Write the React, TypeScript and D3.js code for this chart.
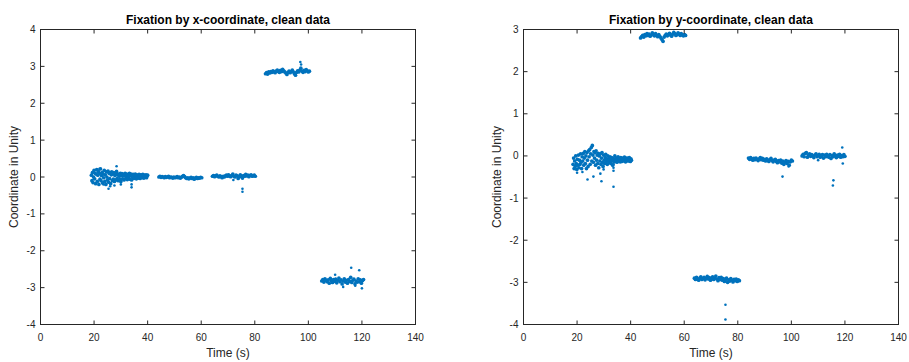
import React from "react";
import * as d3 from "d3";

// Time ticks and axis ranges
const timeTicks = [0, 20, 40, 60, 80, 100, 120, 140];
const leftYTicks = [-4, -3, -2, -1, 0, 1, 2, 3, 4];
const rightYTicks = [-4, -3, -2, -1, 0, 1, 2, 3];

// Sampling steps (s) for the fixation segments
const DT = 0.4;
const DT_FINE = 0.2;

// ---- x-coordinate panel: fixation segments (start time, values) ----
const xSeg1Start = 19;
const xSeg1 = [
  0.05, -0.1, 0.12, -0.15, 0.0, 0.18, -0.05, 0.1, -0.18, 0.08,
  0.2, -0.12, 0.05, 0.15, -0.2, 0.1, -0.06, 0.22, -0.1, 0.04,
  0.12, -0.16, 0.08, -0.02, 0.18, -0.12, 0.06, -0.2, 0.14, 0.0,
  -0.08, 0.16, -0.14, 0.1, -0.04, 0.12, -0.18, 0.06, 0.14, -0.1,
  0.08, -0.06, 0.12, -0.12, 0.04, 0.1, -0.08, 0.15, -0.04, 0.06,
  -0.1, 0.08, 0.02, -0.06, 0.1, -0.12, 0.05, 0.09, -0.05, 0.03,
  0.07, -0.08, 0.04, 0.1, -0.04, 0.02, 0.08, -0.07, 0.05, -0.02,
  0.06, 0.1, -0.06, 0.03, 0.08, -0.08, 0.04, 0.0, 0.07, -0.04,
  0.05, -0.03, 0.08, 0.02, -0.05, 0.06, 0.0, 0.04, -0.03, 0.07,
  0.03, -0.04, 0.06, 0.01, 0.05, -0.02, 0.07, 0.02, -0.03, 0.05,
  0.04, 0.0, 0.06, -0.02, 0.03, 0.05,
];
const xSeg2Start = 44.2;
const xSeg2 = [0.0, 0.02, -0.01, 0.01, 0.0, -0.02, 0.01, -0.01, 0.0, 0.02, -0.02, 0.0, -0.01, -0.03, 0.0, -0.02, -0.01, 0.01, -0.02, 0.0, -0.03, -0.01, 0.02, 0.04, 0.01, -0.02, -0.04, -0.02, -0.05, -0.03, -0.01, -0.04, -0.02, -0.06, -0.03, -0.01, -0.04, -0.02, -0.03, -0.01, -0.02];
const xSeg3Start = 64.2;
const xSeg3 = [0.02, 0.04, 0.01, 0.03, 0.05, 0.02, 0.0, 0.03, 0.01, -0.02, 0.02, 0.0, 0.03, 0.05, 0.02, 0.06, 0.03, 0.01, 0.04, 0.08, 0.02, 0.0, 0.05, 0.03, -0.04, 0.02, 0.06, 0.01, -0.03, 0.04, 0.02, 0.07, 0.03, 0.05, 0.01, 0.04, 0.06, 0.02, 0.03, 0.05, 0.02];
const xSeg4Start = 84;
const xSeg4 = [2.8, 2.83, 2.79, 2.85, 2.82, 2.86, 2.84, 2.88, 2.85, 2.83, 2.87, 2.9, 2.86, 2.84, 2.89, 2.86, 2.92, 2.88, 2.85, 2.82, 2.78, 2.84, 2.87, 2.83, 2.86, 2.9, 2.85, 2.8, 2.76, 2.84, 2.88, 2.85, 2.9, 2.95, 2.87, 2.84, 2.89, 2.86, 2.91, 2.88, 2.85, 2.87];
const xSeg5Start = 105;
const xSeg5 = [-2.82, -2.78, -2.85, -2.76, -2.8, -2.84, -2.79, -2.88, -2.75, -2.81, -2.86, -2.78, -2.83, -2.77, -2.87, -2.8, -2.74, -2.84, -2.79, -2.9, -2.82, -2.76, -2.85, -2.8, -2.88, -2.78, -2.83, -2.72, -2.86, -2.8, -2.77, -2.9, -2.82, -2.85, -2.76, -2.84, -2.79, -2.88, -2.81, -2.78];
const xOutliers: [number, number][] = [
  [21, 0.2], [22, 0.22], [23.5, -0.2], [25.4, -0.32], [26, -0.25], [27.6, -0.23], [28.4, 0.29],
  [30, -0.2], [34, -0.28], [34, -0.2], [72, -0.08], [75.4, -0.32], [75.4, -0.4],
  [97, 3.12], [97.3, 3.05], [110, -2.65], [113, -2.98], [116, -2.46], [117.5, -2.95],
  [119, -2.53], [120, -3.02],
];

// ---- y-coordinate panel ----
const ySeg1Start = 18.5;
const ySeg1 = [
  -0.2, -0.05, -0.3, -0.12, -0.25, 0.0, -0.18, -0.32, -0.08, -0.22,
  0.02, -0.28, -0.1, -0.2, 0.05, -0.15, -0.3, -0.02, -0.12, 0.06,
  -0.22, -0.05, 0.1, -0.18, 0.0, -0.3, 0.08, -0.1, -0.25, 0.12,
  -0.02, 0.15, -0.2, 0.05, 0.2, -0.12, 0.25, 0.02, -0.15, 0.1,
  -0.05, 0.08, -0.22, 0.12, -0.1, 0.02, -0.18, 0.06, -0.28, 0.0,
  -0.12, 0.05, -0.2, -0.05, 0.08, -0.15, -0.25, 0.02, -0.1, -0.18,
  -0.04, 0.04, -0.14, -0.08, -0.2, 0.0, -0.12, -0.05, -0.16, -0.02,
  -0.1, -0.18, -0.04, -0.12, -0.22, -0.06, -0.1, -0.14, 0.0, -0.08,
  -0.12, -0.05, -0.15, -0.08, -0.02, -0.12, -0.06, -0.1, -0.14, -0.04,
  -0.09, -0.13, -0.05, -0.1, -0.07, -0.12, -0.03, -0.09, -0.14, -0.06,
  -0.1, -0.05, -0.12, -0.08, -0.11, -0.04, -0.09, -0.13, -0.07, -0.1,
];
const ySeg2Start = 43.7;
const ySeg2 = [2.8, 2.83, 2.86, 2.82, 2.88, 2.85, 2.9, 2.86, 2.89, 2.84, 2.87, 2.92, 2.88, 2.85, 2.9, 2.86, 2.83, 2.88, 2.84, 2.8, 2.76, 2.72, 2.82, 2.86, 2.89, 2.85, 2.88, 2.91, 2.87, 2.84, 2.89, 2.93, 2.9, 2.86, 2.88, 2.92, 2.89, 2.86, 2.9, 2.87, 2.85, 2.88, 2.86];
const ySeg3Start = 63.8;
const ySeg3 = [-2.9, -2.93, -2.88, -2.92, -2.95, -2.9, -2.87, -2.93, -2.91, -2.88, -2.94, -2.9, -2.86, -2.92, -2.89, -2.95, -2.91, -2.87, -2.93, -2.9, -2.85, -2.92, -2.96, -2.89, -2.93, -2.88, -2.95, -2.91, -2.98, -2.93, -2.9, -3.0, -2.94, -2.97, -2.91, -2.95, -2.99, -2.93, -2.96, -2.92, -2.98, -2.94, -2.96];
const ySeg4Start = 84;
const ySeg4 = [-0.05, -0.08, -0.04, -0.07, -0.1, -0.06, -0.09, -0.05, -0.08, -0.11, -0.07, -0.04, -0.09, -0.06, -0.1, -0.08, -0.12, -0.07, -0.1, -0.13, -0.09, -0.06, -0.11, -0.14, -0.1, -0.08, -0.13, -0.16, -0.11, -0.14, -0.1, -0.17, -0.12, -0.2, -0.15, -0.11, -0.18, -0.13, -0.22, -0.14, -0.1, -0.12];
const ySeg5Start = 104;
const ySeg5 = [0.0, 0.04, -0.02, 0.06, 0.08, -0.03, 0.02, 0.05, -0.01, 0.03, 0.0, -0.04, 0.02, 0.05, -0.02, 0.01, 0.04, -0.03, 0.0, 0.03, -0.05, 0.02, -0.02, 0.04, 0.0, -0.03, 0.03, -0.06, 0.01, -0.02, 0.05, 0.0, -0.04, 0.02, -0.01, 0.04, -0.03, 0.01, -0.02, 0.03, -0.01];
const yOutliers: [number, number][] = [
  [20, -0.4], [22, -0.38], [23.9, -0.56], [26.1, -0.49], [28.7, -0.42], [29.1, -0.6], [29.9, -0.32],
  [33.6, -0.73], [33.6, -0.2], [33.6, -0.35], [33.6, -0.28], [75.4, -3.53], [75.4, -3.88],
  [96.7, -0.49], [99, -0.25], [110, -0.1], [115.5, -0.7], [115.7, -0.58], [119, 0.2], [119.2, -0.18],
];

const BLUE = "#0072BD";
const AXIS = "#262626";
const FONT = "'Liberation Sans', Arial, Helvetica, sans-serif";

type Seg = { start: number; step: number; vals: number[] };

function toPoints(segs: Seg[]): [number, number][] {
  const pts: [number, number][] = [];
  segs.forEach((s) => s.vals.forEach((v, i) => pts.push([s.start + i * s.step, v])));
  return pts;
}

type PanelProps = {
  left: number;
  right: number;
  top: number;
  bottom: number;
  yDomain: [number, number];
  yTicks: number[];
  title: string;
  points: [number, number][];
  outliers: [number, number][];
};

function Panel({ left, right, top, bottom, yDomain, yTicks, title, points, outliers }: PanelProps) {
  const x = d3.scaleLinear().domain([0, 140]).range([left, right]);
  const y = d3.scaleLinear().domain(yDomain).range([bottom, top]);
  const tl = 4;
  return (
    <g>
      {points.map((p, i) => (
        <circle key={"p" + i} cx={x(p[0])} cy={y(p[1])} r={1.85} fill={BLUE} />
      ))}
      {outliers.map((p, i) => (
        <circle key={"o" + i} cx={x(p[0])} cy={y(p[1])} r={1.3} fill={BLUE} />
      ))}
      <rect x={left} y={top} width={right - left} height={bottom - top} fill="none" stroke={AXIS} strokeWidth={1} />
      {timeTicks.map((t) => (
        <g key={"x" + t}>
          <line x1={x(t)} x2={x(t)} y1={bottom} y2={bottom - tl} stroke={AXIS} />
          <line x1={x(t)} x2={x(t)} y1={top} y2={top + tl} stroke={AXIS} />
          <text x={x(t)} y={bottom + 16} textAnchor="middle" fontSize={10} fill={AXIS} fontFamily={FONT}>
            {t}
          </text>
        </g>
      ))}
      {yTicks.map((t) => (
        <g key={"y" + t}>
          <line x1={left} x2={left + tl} y1={y(t)} y2={y(t)} stroke={AXIS} />
          <line x1={right} x2={right - tl} y1={y(t)} y2={y(t)} stroke={AXIS} />
          <text x={left - 5} y={y(t) + 3.5} textAnchor="end" fontSize={10} fill={AXIS} fontFamily={FONT}>
            {t}
          </text>
        </g>
      ))}
      <text x={(left + right) / 2} y={top - 6} textAnchor="middle" fontSize={12} fontWeight="bold" fill="#000" fontFamily={FONT}>
        {title}
      </text>
      <text x={(left + right) / 2} y={bottom + 32} textAnchor="middle" fontSize={12} fill={AXIS} fontFamily={FONT}>
        Time (s)
      </text>
      <text
        transform={`translate(${left - 23},${(top + bottom) / 2}) rotate(-90)`}
        textAnchor="middle"
        fontSize={12}
        fill={AXIS}
        fontFamily={FONT}
      >
        Coordinate in Unity
      </text>
    </g>
  );
}

export default function App() {
  const xPts = toPoints([
    { start: xSeg1Start, step: DT_FINE, vals: xSeg1 },
    { start: xSeg2Start, step: DT, vals: xSeg2 },
    { start: xSeg3Start, step: DT, vals: xSeg3 },
    { start: xSeg4Start, step: DT, vals: xSeg4 },
    { start: xSeg5Start, step: DT, vals: xSeg5 },
  ]);
  const yPts = toPoints([
    { start: ySeg1Start, step: DT_FINE, vals: ySeg1 },
    { start: ySeg2Start, step: DT, vals: ySeg2 },
    { start: ySeg3Start, step: DT, vals: ySeg3 },
    { start: ySeg4Start, step: DT, vals: ySeg4 },
    { start: ySeg5Start, step: DT, vals: ySeg5 },
  ]);
  return (
    <svg width={909} height={362} style={{ position: "absolute", left: 0, top: 0, background: "#fff" }}>
      <rect width={909} height={362} fill="#fff" />
      <Panel left={40.5} right={415.5} top={29.5} bottom={324.5} yDomain={[-4, 4]} yTicks={leftYTicks}
        title="Fixation by x-coordinate, clean data" points={xPts} outliers={xOutliers} />
      <Panel left={523.5} right={898.5} top={29.5} bottom={324.5} yDomain={[-4, 3]} yTicks={rightYTicks}
        title="Fixation by y-coordinate, clean data" points={yPts} outliers={yOutliers} />
    </svg>
  );
}
